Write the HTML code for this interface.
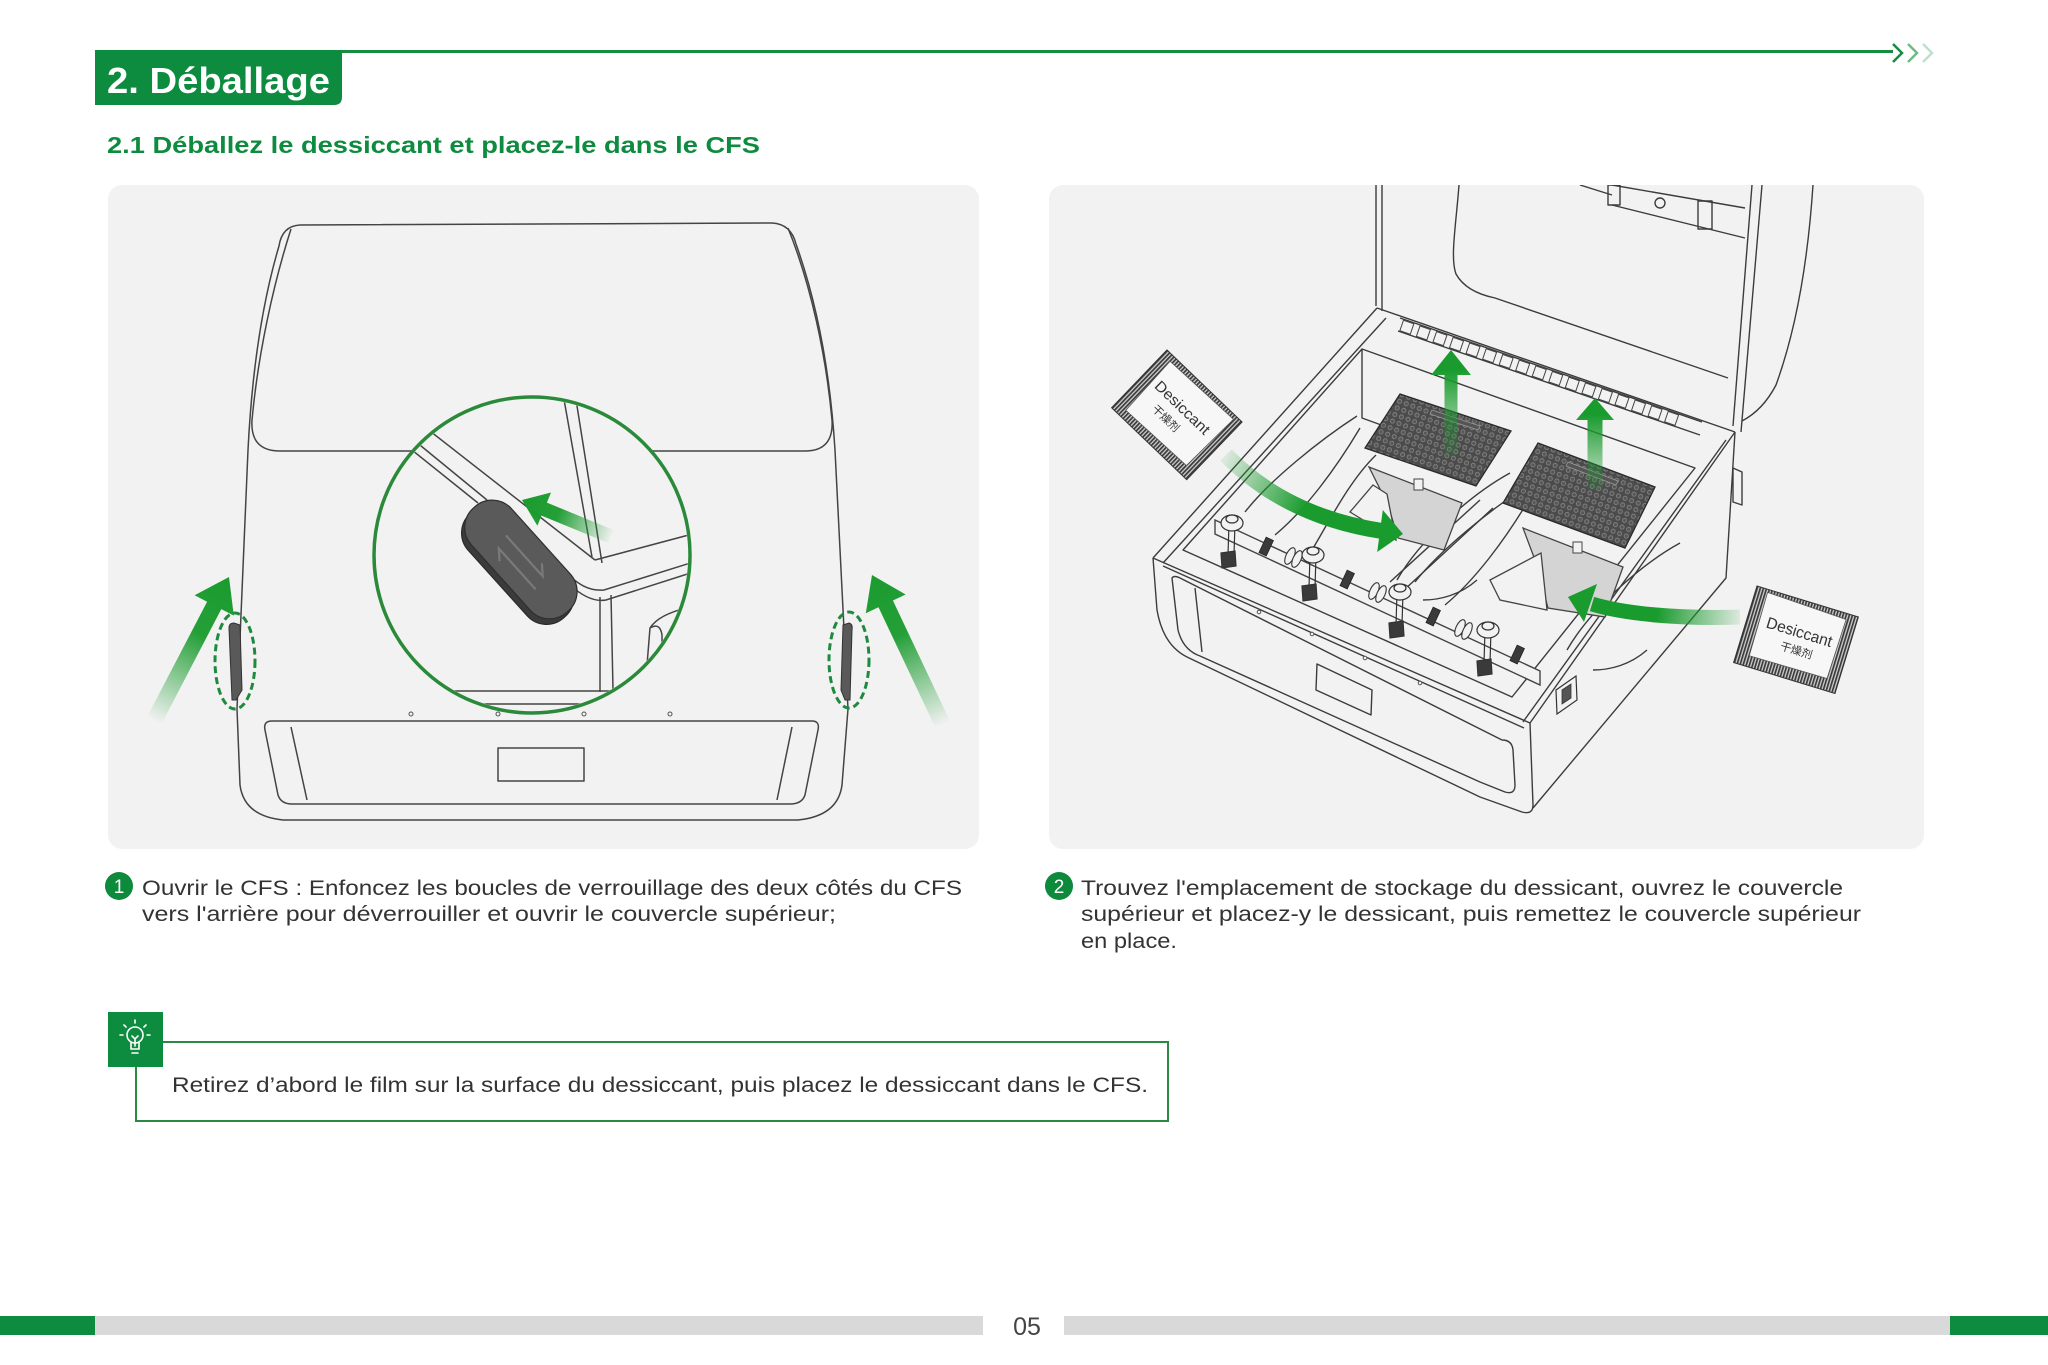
<!DOCTYPE html>
<html><head><meta charset="utf-8">
<style>
html,body{margin:0;padding:0;background:#fff;}
svg{display:block;}
text{font-family:"Liberation Sans","Noto Sans CJK SC",sans-serif;}
</style></head><body>
<svg width="2048" height="1365" viewBox="0 0 2048 1365" xmlns="http://www.w3.org/2000/svg">
<defs>
 <linearGradient id="ga1" gradientUnits="userSpaceOnUse" x1="154" y1="721" x2="229" y2="577">
  <stop offset="0" stop-color="#1a9b2e" stop-opacity="0"/><stop offset="0.6" stop-color="#1a9b2e" stop-opacity="0.95"/><stop offset="1" stop-color="#1a9b2e"/>
 </linearGradient>
 <linearGradient id="ga2" gradientUnits="userSpaceOnUse" x1="943" y1="725" x2="872" y2="575">
  <stop offset="0" stop-color="#1a9b2e" stop-opacity="0"/><stop offset="0.6" stop-color="#1a9b2e" stop-opacity="0.95"/><stop offset="1" stop-color="#1a9b2e"/>
 </linearGradient>
 <linearGradient id="ga3" gradientUnits="userSpaceOnUse" x1="612" y1="537" x2="522" y2="500">
  <stop offset="0" stop-color="#1a9b2e" stop-opacity="0"/><stop offset="0.6" stop-color="#1a9b2e" stop-opacity="0.95"/><stop offset="1" stop-color="#1a9b2e"/>
 </linearGradient>
 <linearGradient id="gu1" gradientUnits="userSpaceOnUse" x1="0" y1="455" x2="0" y2="370">
  <stop offset="0" stop-color="#1a9b2e" stop-opacity="0.15"/><stop offset="1" stop-color="#1a9b2e"/>
 </linearGradient>
 <linearGradient id="gu2" gradientUnits="userSpaceOnUse" x1="0" y1="490" x2="0" y2="415">
  <stop offset="0" stop-color="#1a9b2e" stop-opacity="0.15"/><stop offset="1" stop-color="#1a9b2e"/>
 </linearGradient>
 <linearGradient id="gc1" gradientUnits="userSpaceOnUse" x1="1226" y1="455" x2="1380" y2="531">
  <stop offset="0" stop-color="#1a9b2e" stop-opacity="0.1"/><stop offset="0.55" stop-color="#1a9b2e"/><stop offset="1" stop-color="#1a9b2e"/>
 </linearGradient>
 <linearGradient id="gc2" gradientUnits="userSpaceOnUse" x1="1740" y1="617" x2="1590" y2="603">
  <stop offset="0" stop-color="#1a9b2e" stop-opacity="0.1"/><stop offset="0.55" stop-color="#1a9b2e"/><stop offset="1" stop-color="#1a9b2e"/>
 </linearGradient>
 <pattern id="holes" width="7" height="7" patternUnits="userSpaceOnUse" patternTransform="rotate(20)">
  <rect width="7" height="7" fill="#4b4b4b"/>
  <circle cx="3.5" cy="3.5" r="2.1" fill="#565656" stroke="#8c8c8c" stroke-width="0.7"/>
 </pattern>
 <pattern id="hatch" width="3" height="3" patternUnits="userSpaceOnUse">
  <rect width="3" height="3" fill="#cfcfcf"/>
  <rect width="1.7" height="3" fill="#3a3a3a"/>
 </pattern>
 <clipPath id="rp"><rect x="1049" y="185" width="875" height="664" rx="14"/></clipPath>
 <clipPath id="cc"><circle cx="532" cy="555" r="156"/></clipPath>
</defs>

<rect width="2048" height="1365" fill="#fff"/>

<!-- Header -->
<rect x="95" y="50" width="1798" height="3" fill="#168c3f"/>
<path d="M95,50 H342 V97 Q342,105 334,105 H95 Z" fill="#0d8b3e"/>
<text x="107" y="93" font-size="36" font-weight="bold" fill="#fff" textLength="223" lengthAdjust="spacingAndGlyphs">2. Déballage</text>
<g fill="none" stroke-width="2.5">
 <polyline points="1893,44 1902,53 1893,62" stroke="#168c3f"/>
 <polyline points="1908,44 1917,53 1908,62" stroke="#6dbb86"/>
 <polyline points="1923,44 1932,53 1923,62" stroke="#bfe0c9"/>
</g>
<text x="107" y="153" font-size="23" font-weight="bold" fill="#0d8b3e" textLength="653" lengthAdjust="spacingAndGlyphs">2.1 Déballez le dessiccant et placez-le dans le CFS</text>

<!-- Panels -->
<rect x="108" y="185" width="871" height="664" rx="14" fill="#f2f2f2"/>
<rect x="1049" y="185" width="875" height="664" rx="14" fill="#f2f2f2"/>

<!-- LEFT ILLUSTRATION -->
<g fill="none" stroke="#444" stroke-width="1.5" stroke-linejoin="round">
 <path d="M279,246 Q282,226 300,225 L772,223 Q791,224 796,244"/>
 <path d="M279,246 C263,300 252,370 248,450 L237,709"/>
 <path d="M796,244 C816,300 830,370 835,450 L848,709"/>
 <path d="M291,229 C273,285 258,355 252,420 Q250,451 280,451 L805,451 Q834,451 832,420 C826,355 811,285 788,228"/>
 <path d="M237,709 L240,785 Q244,816 283,820 L798,820 Q838,816 842,785 L848,709"/>
 <path d="M272,721 L812,721 Q820,721 818,730 L805,795 Q802,804 790,804 L292,804 Q281,804 278,795 L265,730 Q263,721 272,721 Z"/>
 <path d="M291,727 L307,800 M792,727 L777,800"/>
 <rect x="498" y="748" width="86" height="33"/>
</g>
<g fill="#f2f2f2" stroke="#555" stroke-width="1">
 <circle cx="411" cy="714" r="2"/><circle cx="498" cy="714" r="2"/><circle cx="584" cy="714" r="2"/><circle cx="670" cy="714" r="2"/>
</g>
<!-- latches -->
<path d="M229,628 Q229,623 234,623 L240,625 L242,690 L236,700 L232,700 Z" fill="#595959" stroke="#333" stroke-width="1"/>
<path d="M843,625 L849,623 Q853,624 852,630 L850,700 L845,700 L841,690 Z" fill="#595959" stroke="#333" stroke-width="1"/>
<ellipse cx="235" cy="661" rx="20" ry="48" fill="none" stroke="#1f8a3f" stroke-width="3" stroke-dasharray="7 4"/>
<ellipse cx="849" cy="660" rx="20" ry="48" fill="none" stroke="#1f8a3f" stroke-width="3" stroke-dasharray="7 4"/>
<!-- side arrows -->
<polygon points="146.9,717.3 207.1,601.7 194.6,595.2 229,577 233.8,615.6 221.3,609.1 161.1,724.7" fill="url(#ga1)"/>
<polygon points="950.2,721.6 892.9,600.5 905.6,594.5 872,575 865.8,613.3 878.5,607.3 935.8,728.4" fill="url(#ga2)"/>

<!-- zoom circle -->
<circle cx="532" cy="555" r="158" fill="#f2f2f2"/>
<g clip-path="url(#cc)">
 <g fill="none" stroke="#444" stroke-width="1.5">
  <path d="M365,400 L487,500"/>
  <path d="M362,410 L478,503"/>
  <path d="M380,392 L595,560"/>
  <path d="M557,360 L592,557"/>
  <path d="M570,362 L602,563"/>
  <path d="M595,560 L700,532"/>
  <path d="M566,572 Q584,592 604,590 L700,560"/>
  <path d="M570,585 Q590,603 606,600 L700,570"/>
  <path d="M600,597 L600,692 M611,595 L613,690"/>
  <path d="M700,605 Q660,612 650,628 L647,665 M650,628 Q660,622 662,635 L662,652"/>
  <path d="M360,691 L710,691 M360,704 L710,704"/>
 </g>
 <g transform="translate(520,563) rotate(48)">
  <rect x="-70" y="-24" width="140" height="54" rx="26" fill="#3b3b3b" stroke="#2a2a2a" stroke-width="1.2"/>
  <rect x="-72" y="-30" width="140" height="54" rx="26" fill="#5a5a5a" stroke="#2e2e2e" stroke-width="1.2"/>
  <path d="M-30,-8 L25,-8 L15,-16 M30,6 L-25,6 L-15,14" fill="none" stroke="#7a7a7a" stroke-width="2.2"/>
 </g>
 <polygon points="614.7,530.5 546.9,502.6 551,492.5 522,500 537.4,525.7 541.5,515.6 609.3,543.5" fill="url(#ga3)"/>
</g>
<circle cx="532" cy="555" r="158" fill="none" stroke="#2a8a3a" stroke-width="3.5"/>

<!-- RIGHT ILLUSTRATION -->
<g clip-path="url(#rp)">
 <g fill="none" stroke="#3c3c3c" stroke-width="1.4" stroke-linejoin="round">
  <!-- lid -->
  <path d="M1376,185 L1376,306 M1382,185 L1382,311"/>
  <path d="M1459,185 C1456,225 1450,258 1456,274 Q1466,292 1495,298 L1728,378"/>
  <path d="M1752,185 L1733,426 M1762,185 L1741,432"/>
  <path d="M1813,185 C1808,260 1796,330 1776,385 Q1763,410 1742,421"/>
  <path d="M1612,185 L1745,208 M1612,205 L1745,238 M1580,185 L1612,195"/>
  <rect x="1608" y="185" width="12" height="20"/>
  <rect x="1698" y="201" width="14" height="28"/>
  <circle cx="1660" cy="203" r="5"/>
  <!-- rim back -->
  <path d="M1377,308 L1735,432"/>
  <path d="M1400,318 L1702,422 M1398,331 L1700,435"/>
  <!-- rim left / right -->
  <path d="M1377,308 L1153,558 M1386,318 L1163,563"/>
  <path d="M1735,432 L1530,723 M1726,440 L1523,722"/>
  <path d="M1362,349 L1695,468 L1512,697 L1183,550 Z"/>
  <path d="M1362,349 L1362,418 L1395,430"/>
  <path d="M1153,558 L1530,723"/>
  <path d="M1163,566 L1524,728"/>
  <!-- front face -->
  <path d="M1153,558 L1157,610 Q1163,645 1187,657 L1480,797 L1522,812 Q1533,815 1533,805 L1530,723"/>
  <path d="M1533,808 L1726,578 L1735,432"/>
  <path d="M1172,578 L1178,630 Q1183,650 1200,656 L1480,782 L1505,792 Q1515,795 1515,785 L1513,750 Q1512,740 1502,740 L1180,578 Q1174,575 1172,578 Z"/>
  <path d="M1195,588 L1202,652"/>
  <polygon points="1317,664 1372,690 1371,715 1316,690"/>
  <!-- side details -->
  <path d="M1733,468 L1742,472 L1742,505 L1733,502 Z"/>
  <!-- interior trays compartment 1 -->
  <path d="M1357,416 C1320,440 1270,480 1245,512"/>
  <path d="M1360,428 C1335,470 1305,510 1275,535"/>
  <path d="M1376,455 C1350,480 1330,520 1312,550"/>
  <path d="M1510,473 C1470,495 1420,540 1397,580"/>
  <path d="M1477,580 C1460,595 1440,600 1423,600"/>
  <!-- compartment 2 -->
  <path d="M1527,486 C1490,510 1440,550 1415,582"/>
  <path d="M1530,498 C1505,540 1475,580 1445,605"/>
  <path d="M1680,543 C1640,565 1590,610 1567,650"/>
  <path d="M1647,650 C1630,665 1610,670 1593,670"/>
  <path d="M1480,500 L1390,582 M1493,508 L1404,590"/>
 </g>
 <g transform="translate(1400,318) rotate(19)" fill="none" stroke="#444" stroke-width="1">
  <rect x="4" y="1" width="11" height="11"/><rect x="21.5" y="1" width="11" height="11"/><rect x="39" y="1" width="11" height="11"/><rect x="56.5" y="1" width="11" height="11"/><rect x="74" y="1" width="11" height="11"/><rect x="91.5" y="1" width="11" height="11"/><rect x="109" y="1" width="11" height="11"/><rect x="126.5" y="1" width="11" height="11"/><rect x="144" y="1" width="11" height="11"/><rect x="161.5" y="1" width="11" height="11"/><rect x="179" y="1" width="11" height="11"/><rect x="196.5" y="1" width="11" height="11"/><rect x="214" y="1" width="11" height="11"/><rect x="231.5" y="1" width="11" height="11"/><rect x="249" y="1" width="11" height="11"/><rect x="266.5" y="1" width="11" height="11"/><rect x="284" y="1" width="11" height="11"/>
 </g>
 <g fill="#f2f2f2" stroke="#555" stroke-width="1">
  <circle cx="1259" cy="612" r="1.8"/><circle cx="1312" cy="634" r="1.8"/><circle cx="1365" cy="658" r="1.8"/><circle cx="1420" cy="683" r="1.8"/>
 </g>
 <path d="M1556,690 L1576,676 L1577,700 L1557,714 Z" fill="#f2f2f2" stroke="#333" stroke-width="1.2"/>
 <path d="M1562,690 L1571,684 L1571,698 L1562,704 Z" fill="#555" stroke="#333" stroke-width="0.8"/>
 <!-- slots -->
 <polygon points="1369,467 1462,503 1444,550 1398,538 1388,505" fill="#d4d4d4" stroke="#444" stroke-width="1.3"/>
 <polygon points="1373,485 1387,494 1396,540 1350,512" fill="#f2f2f2" stroke="#444" stroke-width="1.3"/>
 <rect x="1414" y="479" width="9" height="11" fill="#f2f2f2" stroke="#444" stroke-width="1"/>
 <polygon points="1523,528 1623,567 1605,617 1548,608 1535,560" fill="#d4d4d4" stroke="#444" stroke-width="1.3"/>
 <polygon points="1490,580 1541,553 1547,610 1500,600" fill="#f2f2f2" stroke="#444" stroke-width="1.3"/>
 <rect x="1573" y="542" width="9" height="11" fill="#f2f2f2" stroke="#444" stroke-width="1"/>
 <!-- rollers -->
 <polygon points="1215,520 1540,671 1540,685 1215,534" fill="#f2f2f2" stroke="#444" stroke-width="1.4"/>
 <g fill="#3a3a3a" stroke="#222" stroke-width="0.8">
  <rect x="1262" y="538" width="8" height="17" transform="rotate(25 1266 547)"/>
  <rect x="1343" y="571" width="8" height="17" transform="rotate(25 1347 580)"/>
  <rect x="1429" y="608" width="8" height="17" transform="rotate(25 1433 617)"/>
  <rect x="1513" y="646" width="8" height="17" transform="rotate(25 1517 655)"/>
 </g>
 <g fill="#f2f2f2" stroke="#333" stroke-width="1.1">
  <ellipse cx="1290" cy="556" rx="4" ry="9" transform="rotate(25 1290 556)"/>
  <ellipse cx="1297" cy="559" rx="4" ry="9" transform="rotate(25 1297 559)"/>
  <ellipse cx="1374" cy="591" rx="4" ry="9" transform="rotate(25 1374 591)"/>
  <ellipse cx="1381" cy="594" rx="4" ry="9" transform="rotate(25 1381 594)"/>
  <ellipse cx="1460" cy="628" rx="4" ry="9" transform="rotate(25 1460 628)"/>
  <ellipse cx="1467" cy="631" rx="4" ry="9" transform="rotate(25 1467 631)"/>
 </g>
 <!-- posts -->
 <g stroke="#333" stroke-width="1.2">
  <path d="M1229,523 L1228,555 M1235,523 L1234,555" fill="none"/>
  <path d="M1221,553 L1235,551 L1236,566 L1222,568 Z" fill="#3a3a3a"/>
  <ellipse cx="1232" cy="523" rx="11" ry="8" fill="#f2f2f2"/><ellipse cx="1232" cy="519" rx="6" ry="4" fill="#f2f2f2"/>
  <path d="M1310,555 L1309,588 M1316,555 L1315,588" fill="none"/>
  <path d="M1302,586 L1316,584 L1317,599 L1303,601 Z" fill="#3a3a3a"/>
  <ellipse cx="1313" cy="555" rx="11" ry="8" fill="#f2f2f2"/><ellipse cx="1313" cy="551" rx="6" ry="4" fill="#f2f2f2"/>
  <path d="M1397,592 L1396,625 M1403,592 L1402,625" fill="none"/>
  <path d="M1389,623 L1403,621 L1404,636 L1390,638 Z" fill="#3a3a3a"/>
  <ellipse cx="1400" cy="592" rx="11" ry="8" fill="#f2f2f2"/><ellipse cx="1400" cy="588" rx="6" ry="4" fill="#f2f2f2"/>
  <path d="M1485,630 L1484,663 M1491,630 L1490,663" fill="none"/>
  <path d="M1477,661 L1491,659 L1492,674 L1478,676 Z" fill="#3a3a3a"/>
  <ellipse cx="1488" cy="630" rx="11" ry="8" fill="#f2f2f2"/><ellipse cx="1488" cy="626" rx="6" ry="4" fill="#f2f2f2"/>
 </g>
 <!-- plates -->
 <polygon points="1400,394 1511,431 1476,486 1365,448" fill="url(#holes)" stroke="#2a2a2a" stroke-width="1.3"/>
 <polygon points="1432,410 1480,426 1478,430 1430,414" fill="#555" stroke="#999" stroke-width="0.8"/>
 <polygon points="1538,443 1655,487 1625,548 1503,503" fill="url(#holes)" stroke="#2a2a2a" stroke-width="1.3"/>
 <polygon points="1568,462 1618,481 1616,485 1566,466" fill="#555" stroke="#999" stroke-width="0.8"/>
 <!-- up arrows -->
 <polygon points="1444.5,455 1444.5,375 1431,375 1451,350 1471,375 1457.5,375 1457.5,455" fill="url(#gu1)"/>
 <polygon points="1587.5,490 1587.5,420 1576,420 1595,398 1614,420 1602.5,420 1602.5,490" fill="url(#gu2)"/>
 <!-- curved arrows -->
 <path d="M1226,455 C1260,490 1310,520 1382,531" fill="none" stroke="url(#gc1)" stroke-width="16"/>
 <polygon points="1382.8,510 1403,534 1377.2,552" fill="#1a9b2e"/>
 <path d="M1740,617 C1680,619 1625,614 1592,604" fill="none" stroke="url(#gc2)" stroke-width="15"/>
 <polygon points="1597,584 1568,597 1584,622" fill="#1a9b2e"/>
 <!-- packets -->
 <g transform="translate(1167,350) rotate(43.8)">
  <rect x="0" y="0" width="104" height="80" fill="url(#hatch)" stroke="#333" stroke-width="1"/>
  <path d="M10,6 L96,4 L94,70 L12,72 Z" fill="#f7f7f7" stroke="#555" stroke-width="0.8"/>
  <text x="16" y="36" font-size="15" fill="#333" textLength="70" lengthAdjust="spacingAndGlyphs">Desiccant</text>
  <text x="30" y="54" font-size="11" fill="#333">干燥剂</text>
 </g>
 <g transform="translate(1757,586) rotate(17)">
  <rect x="0" y="0" width="106" height="80" fill="url(#hatch)" stroke="#333" stroke-width="1"/>
  <path d="M12,3 L95,6 L94,68 L13,69 Z" fill="#f7f7f7" stroke="#555" stroke-width="0.8"/>
  <text x="20" y="37" font-size="16" fill="#333" textLength="68" lengthAdjust="spacingAndGlyphs">Desiccant</text>
  <text x="40" y="54" font-size="11" fill="#333">干燥剂</text>
 </g>
</g>

<!-- Step texts -->
<circle cx="119" cy="886" r="14" fill="#0e8a3c"/>
<text x="119" y="893" font-size="19" fill="#fff" text-anchor="middle">1</text>
<g font-size="21" fill="#333">
 <text x="142" y="895" textLength="820" lengthAdjust="spacingAndGlyphs">Ouvrir le CFS : Enfoncez les boucles de verrouillage des deux côtés du CFS</text>
 <text x="142" y="921" textLength="694" lengthAdjust="spacingAndGlyphs">vers l'arrière pour déverrouiller et ouvrir le couvercle supérieur;</text>
 <text x="1081" y="895" textLength="762" lengthAdjust="spacingAndGlyphs">Trouvez l'emplacement de stockage du dessicant, ouvrez le couvercle</text>
 <text x="1081" y="921" textLength="780" lengthAdjust="spacingAndGlyphs">supérieur et placez-y le dessicant, puis remettez le couvercle supérieur</text>
 <text x="1081" y="948" textLength="96" lengthAdjust="spacingAndGlyphs">en place.</text>
</g>
<circle cx="1059" cy="886" r="14" fill="#0e8a3c"/>
<text x="1059" y="893" font-size="19" fill="#fff" text-anchor="middle">2</text>

<!-- Tip -->
<rect x="136" y="1042" width="1032" height="79" fill="none" stroke="#2a8a44" stroke-width="2"/>
<rect x="108" y="1012" width="55" height="55" fill="#0d8b3e"/>
<g fill="none" stroke="#fff" stroke-width="1.6" stroke-linecap="round">
 <circle cx="135" cy="1035" r="8"/>
 <path d="M131,1042 L131,1049 L139,1049 L139,1042"/>
 <path d="M132,1053 L138,1053"/>
 <path d="M132,1036 L135,1039 L138,1036 M135,1039 L135,1046"/>
 <path d="M135,1020 L135,1023 M124,1025 L126,1027 M146,1025 L144,1027 M120,1035 L123,1035 M147,1035 L150,1035"/>
</g>
<text x="172" y="1092" font-size="21" fill="#333" textLength="976" lengthAdjust="spacingAndGlyphs">Retirez d’abord le film sur la surface du dessiccant, puis placez le dessiccant dans le CFS.</text>

<!-- Footer -->
<rect x="0" y="1316" width="95" height="19" fill="#0d8b3e"/>
<rect x="95" y="1316" width="888" height="19" fill="#d9d9d9"/>
<rect x="1064" y="1316" width="886" height="19" fill="#d9d9d9"/>
<rect x="1950" y="1316" width="98" height="19" fill="#0d8b3e"/>
<text x="1027" y="1335" font-size="25" fill="#444" text-anchor="middle">05</text>
</svg>
</body></html>
